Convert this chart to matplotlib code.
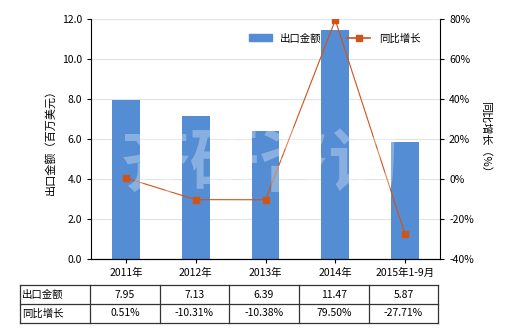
import numpy as np
import matplotlib
matplotlib.use('Agg')
import matplotlib.pyplot as plt
from matplotlib.lines import Line2D

plt.rcParams['font.family'] = ['Noto Sans CJK SC', 'DejaVu Sans']

# datos
categorias = ['2011年', '2012年', '2013年', '2014年', '2015年1-9月']
exportacion = [7.95, 7.13, 6.39, 11.47, 5.87]
crecimiento = [0.51, -10.31, -10.38, 79.50, -27.71]
fila_export = ['7.95', '7.13', '6.39', '11.47', '5.87']
fila_crec = ['0.51%', '-10.31%', '-10.38%', '79.50%', '-27.71%']

color_barra = '#548DD4'
color_linea = '#D05317'

fig = plt.figure(figsize=(5.2, 3.3), dpi=100)
ax = fig.add_axes([91/520, 1-259/330, 349/520, 240/330])
x = np.arange(len(categorias))

ax.bar(x, exportacion, width=0.4, color=color_barra, zorder=2, label='出口金额')
ax.set_xlim(-0.5, len(categorias) - 0.5)
ax.set_ylim(0, 12)
ax.set_yticks(np.arange(0, 12.1, 2))
ax.set_yticklabels([f'{v:.1f}' for v in np.arange(0, 12.1, 2)])
ax.set_xticks(x)
ax.set_xticklabels(categorias)
ax.grid(True, axis='y', color='#DDE5E5', linewidth=0.8, zorder=0)
ax.tick_params(labelsize=7.5, length=3, width=0.8)
ax.spines['top'].set_visible(False)
ax.spines['right'].set_visible(False)
ax.set_ylabel('出口金额（百万美元）', fontsize=8, labelpad=4)

ax2 = ax.twinx()
ax2.plot(x, crecimiento, color=color_linea, linewidth=0.8, marker='s', markersize=4, zorder=3)
ax2.set_ylim(-40, 80)
ax2.set_yticks(np.arange(-40, 81, 20))
ax2.set_yticklabels([f'{v}%' for v in np.arange(-40, 81, 20)])
ax2.tick_params(labelsize=7.5, length=3, width=0.8)
ax2.spines['top'].set_visible(False)
ax2.spines['left'].set_visible(False)
ax2.set_ylabel('同比增长（%）', fontsize=8, rotation=-90, labelpad=12)

# marca de agua
fig.text(0.5, 0.5, '齐研咨询', fontsize=50, color='white', alpha=0.3,
         ha='center', va='center', fontweight='bold', zorder=10)

# leyenda
handles = [plt.Rectangle((0, 0), 1, 1, color=color_barra),
           Line2D([0], [0], color=color_linea, linewidth=1.2, marker='s', markersize=4)]
ax2.legend(handles, ['出口金额', '同比增长'], loc='upper right', ncol=2, frameon=False,
           fontsize=7.5, bbox_to_anchor=(0.97, 0.98), handlelength=2.2, columnspacing=2.5)

# tabla inferior
W, H = 520, 330
xs = [20, 90, 160, 229, 299, 369, 438]
ys = [285, 304, 323]
for yy in ys:
    fig.add_artist(Line2D([xs[0]/W, xs[-1]/W], [1-yy/H, 1-yy/H], color='#333333', linewidth=0.9))
for xx in xs:
    fig.add_artist(Line2D([xx/W, xx/W], [1-ys[0]/H, 1-ys[-1]/H], color='#333333', linewidth=0.9))
for r, (nombre, fila) in enumerate([('出口金额', fila_export), ('同比增长', fila_crec)]):
    yc = 1 - (ys[r] + ys[r+1]) / 2 / H
    fig.text((xs[0] + 2)/W, yc, nombre, fontsize=7.5, ha='left', va='center')
    for i, val in enumerate(fila):
        xc = (xs[i+1] + xs[i+2]) / 2 / W
        fig.text(xc, yc, val, fontsize=7.5, ha='center', va='center')

fig.savefig('out.png', dpi=100)
